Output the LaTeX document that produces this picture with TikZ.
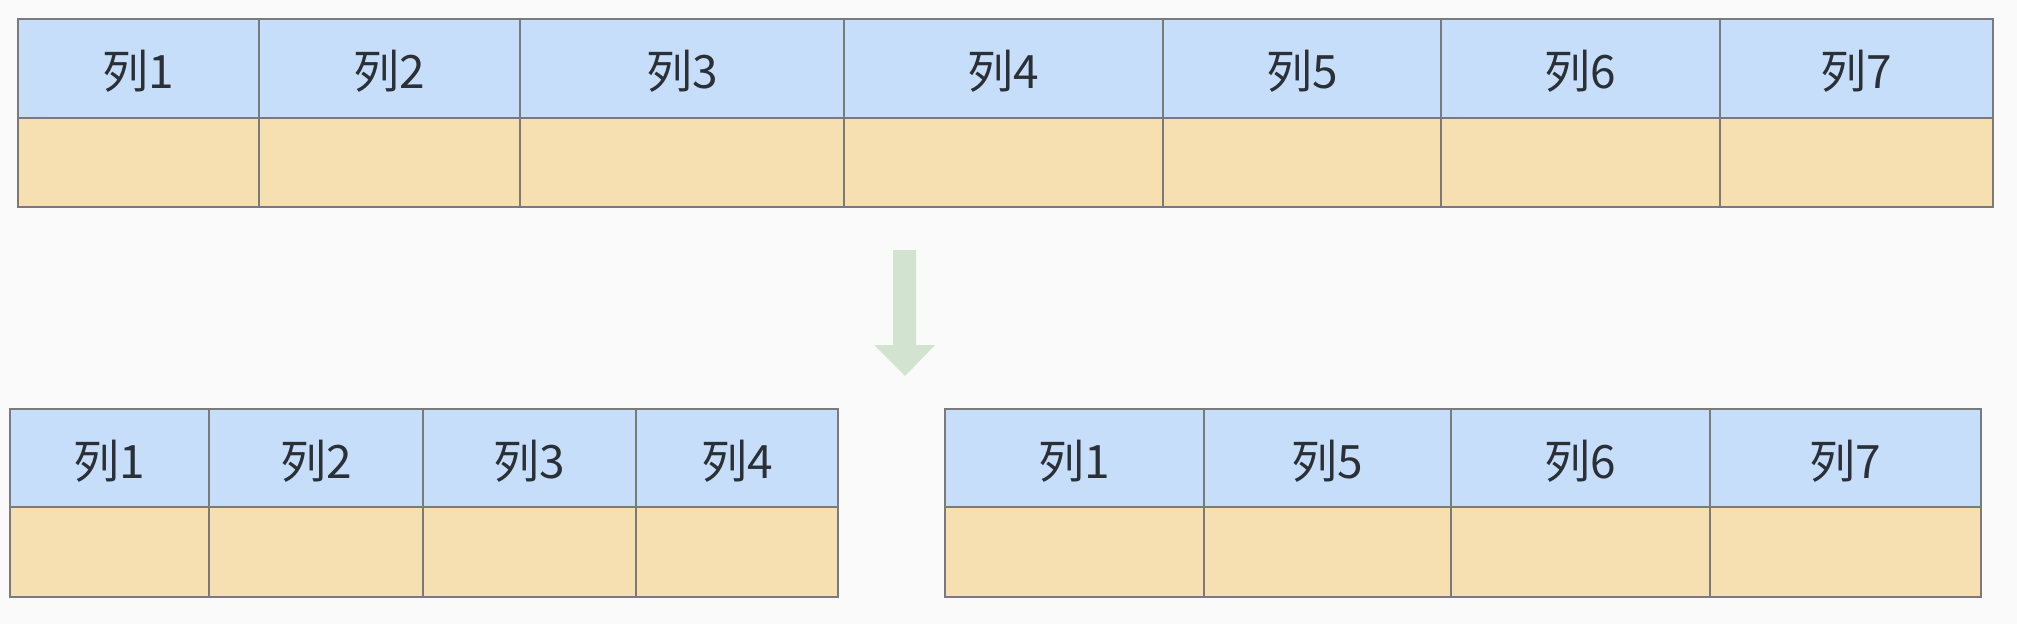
\documentclass[tikz,border=0pt]{standalone}
\usepackage{fontspec}
\setmainfont{Noto Sans CJK SC}
\usepackage{tikz}
\definecolor{headblue}{HTML}{C7DEFA}
\definecolor{bodysand}{HTML}{F6DFB0}
\definecolor{gridgray}{HTML}{7A7A7A}
\definecolor{arrowgreen}{HTML}{D2E4CF}
\definecolor{paper}{HTML}{FAFAFA}
\definecolor{inkdark}{HTML}{2B3036}

\begin{document}
\begin{tikzpicture}[x=1pt, y=-1pt,
    head/.style={fill=headblue, draw=gridgray, line width=1.5pt},
    body/.style={fill=bodysand, draw=gridgray, line width=1.5pt},
    label text/.style={text=inkdark, font=\fontsize{46}{52}\selectfont, inner sep=0pt}]
    \fill[paper] (0,0) rectangle (2017,624);
    \useasboundingbox (0,0) rectangle (2017,624);

    % original table
    \foreach \i/\xa/\xb in {1/18/259, 2/259/520, 3/520/844, 4/844/1163, 5/1163/1441, 6/1441/1720, 7/1720/1993} {
        \filldraw[head] (\xa,19) rectangle (\xb,118);
        \filldraw[body] (\xa,118) rectangle (\xb,207);
        \node[label text] (top\i) at ({(\xa+\xb)/2},71) {列\i};
    }

    % split arrow
    \fill[arrowgreen] (893,250) -- (916,250) -- (916,345) -- (935,345) -- (905,376)
        -- (874,345) -- (893,345) -- cycle;

    % left part
    \foreach \i/\xa/\xb/\c in {1/10/209/1, 2/209/423/2, 3/423/636/3, 4/636/838/4} {
        \filldraw[head] (\xa,409) rectangle (\xb,507);
        \filldraw[body] (\xa,507) rectangle (\xb,597);
        \node[label text] (left\i) at ({(\xa+\xb)/2},461) {列\c};
    }
    % right part
    \foreach \i/\xa/\xb/\c in {1/945/1204/1, 2/1204/1451/5, 3/1451/1710/6, 4/1710/1981/7} {
        \filldraw[head] (\xa,409) rectangle (\xb,507);
        \filldraw[body] (\xa,507) rectangle (\xb,597);
        \node[label text] (right\i) at ({(\xa+\xb)/2},461) {列\c};
    }
\end{tikzpicture}
\end{document}
